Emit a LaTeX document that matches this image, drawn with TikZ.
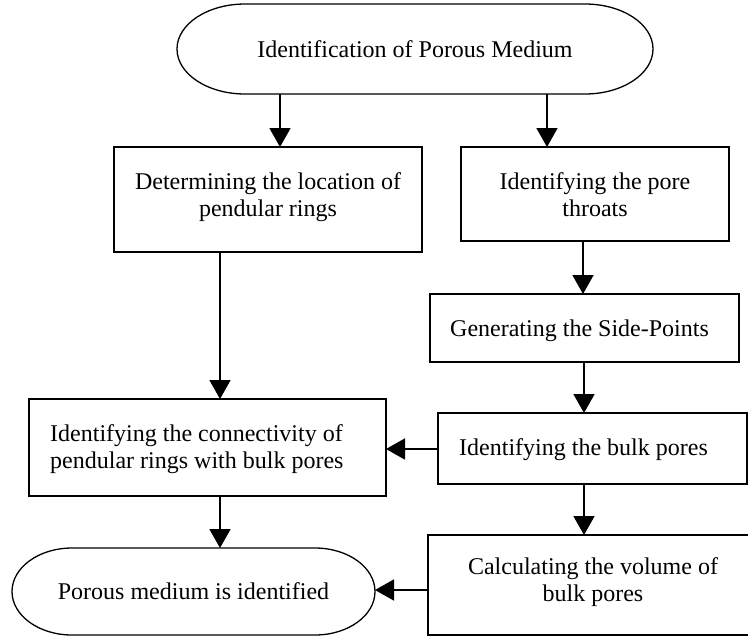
\documentclass[tikz,border=0pt]{standalone}
\usepackage{fontspec}
\setmainfont{Liberation Serif}
\usetikzlibrary{arrows.meta}
% outline of a terminal node: straight top and bottom, half-ellipse ends
\newcommand\drawterminal[3]{%
  \draw[line width=1.3pt] ([xshift=#2]#1.north west) -- ([xshift=-#2]#1.north east)
    arc[start angle=90,end angle=-90,x radius=#2,y radius=#3]
    -- ([xshift=#2]#1.south west)
    arc[start angle=270,end angle=90,x radius=#2,y radius=#3] -- cycle;}
\begin{document}
\begin{tikzpicture}[x=1pt,y=-1pt,
  box/.style={draw, line width=1.4pt, rectangle, inner sep=0pt, outer sep=0pt},
  term/.style={rectangle, inner sep=0pt, outer sep=0pt, font=\fontsize{24}{27}\selectfont},
  lbl/.style={inner sep=0pt, font=\fontsize{24}{27}\selectfont},
  arr/.style={line width=1.8pt, -{Triangle[width=21pt,length=19pt]}}]
\useasboundingbox (0,0) rectangle (748,641);
\clip (0,0) rectangle (748,641);

% terminals
\node[term, minimum width=476pt, minimum height=90pt] (stad1) at (415,49) {Identification of Porous Medium};
\drawterminal{stad1}{68pt}{45pt}
\node[term, minimum width=363pt, minimum height=87pt] (stad2) at (193.5,591.5) {Porous medium is identified};
\drawterminal{stad2}{60pt}{43.5pt}

% process boxes
\node[box, minimum width=308pt, minimum height=105pt] (box1) at (268,199.5) {};
\node[box, minimum width=268pt, minimum height=94pt]  (box2) at (595,194) {};
\node[box, minimum width=309pt, minimum height=68pt]  (box3) at (584.5,328) {};
\node[box, minimum width=357pt, minimum height=97pt]  (box4) at (207.5,447.5) {};
\node[box, minimum width=309pt, minimum height=71pt]  (box5) at (592.5,448.5) {};
\node[box, minimum width=330pt, minimum height=100pt] (box6) at (593,585) {};

% box texts (base anchor = baseline of the last line)
\node[lbl, anchor=base, align=center] (t1) at (268,216) {Determining the location of\\pendular rings};
\node[lbl, anchor=base, align=center] (t2) at (595,216) {Identifying the pore\\throats};
\node[lbl, anchor=base west] (t3) at (450,336) {Generating the Side-Points};
\node[lbl, anchor=base west, align=left] (t4) at (50,468) {Identifying the connectivity of\\pendular rings with bulk pores};
\node[lbl, anchor=base west] (t5) at (459,455) {Identifying the bulk pores};
\node[lbl, anchor=base, align=center] (t6) at (593,601) {Calculating the volume of\\bulk pores};

% connector positions
\coordinate (xa) at (280,0);
\coordinate (xb) at (547,0);
\coordinate (xc) at (583,0);
\coordinate (xd) at (220,0);
\coordinate (xe) at (584,0);
\coordinate (ya) at (0,449);
\coordinate (yb) at (0,590);

% connectors
\draw[arr] (xa |- stad1.south) -- (xa |- box1.north);
\draw[arr] (xb |- stad1.south) -- (xb |- box2.north);
\draw[arr] (xc |- box2.south) -- (xc |- box3.north);
\draw[arr] (xd |- box1.south) -- (xd |- box4.north);
\draw[arr] (xe |- box3.south) -- (xe |- box5.north);
\draw[arr] (xe |- box5.south) -- (xe |- box6.north);
\draw[arr] (xd |- box4.south) -- (xd |- stad2.north);
\draw[arr] (box5.west |- ya) -- (box4.east |- ya);
\draw[arr] (box6.west |- yb) -- (stad2.east |- yb);
\end{tikzpicture}
\end{document}
